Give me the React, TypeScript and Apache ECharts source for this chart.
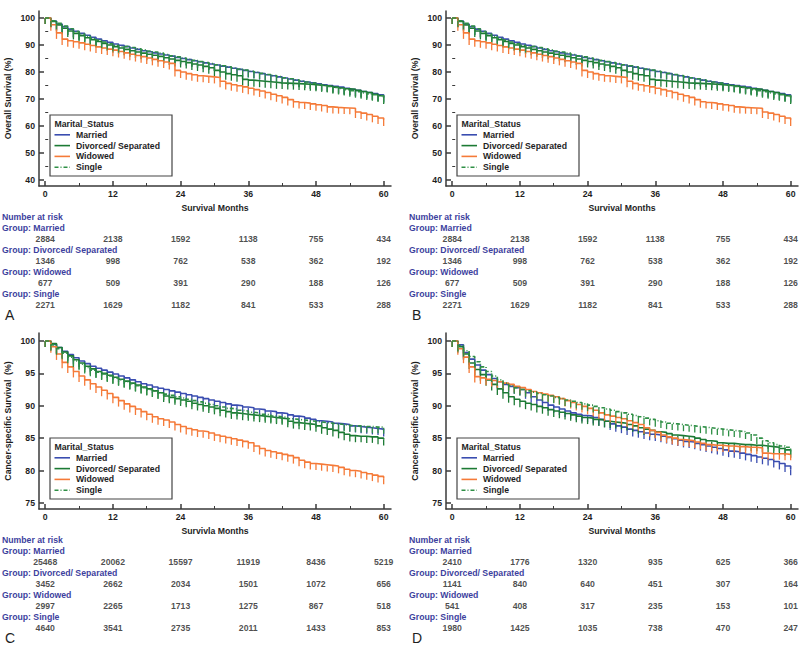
import React, { useEffect, useRef } from "react";
import * as echarts from "echarts";

// ---------------- data ----------------
const MONTHS = Array.from({ length: 61 }, (_, i) => i);
const GROUPS = ["Married", "Divorced/ Separated", "Widowed", "Single"];
const RISK_MONTHS = [0, 12, 24, 36, 48, 60];
const X_TICKS = [0, 12, 24, 36, 48, 60];
const X_MINOR = [6, 18, 30, 42, 54];
const OS_Y_TICKS = [40, 50, 60, 70, 80, 90, 100];
const OS_Y_MINOR = [45, 55, 65, 75, 85, 95];
const CSS_Y_TICKS = [75, 80, 85, 90, 95, 100];

// Overall survival (panels A and B)
const osMarried = [100, 98.9, 97.8, 96.8, 95.9, 95.1, 94.3, 93.6, 92.9, 92.2, 91.6, 91.0, 90.4, 89.9, 89.4, 88.9, 88.4, 87.9, 87.5, 87.1, 86.7, 86.3, 85.9, 85.4, 85.0, 84.6, 84.2, 83.8, 83.4, 83.0, 82.6, 82.2, 81.8, 81.4, 81.0, 80.6, 80.2, 79.8, 79.4, 79.0, 78.6, 78.2, 77.8, 77.4, 77.0, 76.6, 76.3, 76.0, 75.6, 75.3, 75.0, 74.7, 74.4, 74.0, 73.6, 73.2, 72.8, 72.4, 72.0, 71.6, 71.2];
const osDivorced = [100, 98.7, 97.4, 96.2, 95.2, 94.3, 93.5, 92.7, 92.0, 91.3, 90.6, 90.0, 89.4, 88.9, 88.4, 87.9, 87.4, 87.0, 86.6, 86.2, 85.8, 85.3, 84.8, 84.3, 83.9, 83.5, 83.0, 82.6, 82.1, 81.6, 80.6, 80.0, 79.4, 79.0, 78.6, 77.3, 77.0, 76.8, 76.6, 76.4, 76.2, 76.0, 75.9, 75.8, 75.7, 75.6, 75.5, 75.3, 75.1, 74.9, 74.7, 74.4, 74.1, 73.8, 73.6, 73.2, 72.8, 72.4, 71.8, 71.2, 70.4];
const osWidowed = [100, 97.5, 94.5, 92.2, 91.6, 91.2, 90.8, 90.3, 89.8, 89.3, 88.9, 88.5, 88.1, 87.6, 87.1, 86.6, 86.1, 85.7, 85.2, 84.7, 84.2, 83.7, 83.2, 80.6, 80.0, 79.4, 79.0, 78.6, 78.4, 78.2, 78.0, 76.6, 75.8, 75.3, 74.9, 74.5, 74.0, 73.5, 73.0, 72.4, 71.8, 71.2, 70.6, 69.8, 69.0, 68.7, 68.5, 68.2, 67.9, 67.6, 67.1, 66.9, 66.8, 66.7, 66.6, 65.2, 64.8, 64.3, 63.6, 63.0, 62.2];
const osSingle = [100, 99.0, 98.0, 97.0, 96.0, 95.0, 94.1, 93.3, 92.5, 91.8, 91.1, 90.5, 89.9, 89.4, 89.6, 89.1, 88.6, 88.2, 87.8, 87.4, 87.0, 86.5, 86.0, 85.6, 85.2, 84.7, 84.3, 83.9, 83.5, 83.1, 82.7, 82.3, 81.9, 81.5, 81.1, 80.7, 80.3, 79.9, 79.5, 79.1, 78.7, 78.3, 77.9, 77.5, 77.1, 76.7, 76.3, 75.9, 75.5, 75.1, 74.7, 74.3, 73.9, 73.5, 73.1, 72.7, 72.3, 71.9, 71.6, 71.3, 70.8];

// Cancer-specific survival, panel C
const cssMarried = [100, 99.5, 99.0, 98.4, 97.9, 97.4, 96.9, 96.5, 96.1, 95.8, 95.5, 95.2, 94.9, 94.6, 94.3, 94.0, 93.7, 93.4, 93.2, 92.9, 92.7, 92.5, 92.3, 92.1, 91.9, 91.7, 91.5, 91.3, 91.1, 90.9, 90.7, 90.5, 90.3, 90.1, 90.0, 89.8, 89.7, 89.5, 89.4, 89.2, 89.1, 88.9, 88.8, 88.6, 88.4, 88.3, 88.1, 87.9, 87.7, 87.6, 87.5, 87.3, 87.2, 87.1, 86.9, 86.8, 86.7, 86.6, 86.5, 86.4, 86.2];
const cssDivorced = [100, 99.6, 99.0, 98.3, 97.7, 97.1, 96.6, 96.1, 95.7, 95.3, 95.0, 94.7, 94.4, 94.1, 93.8, 93.5, 93.2, 92.9, 92.6, 92.3, 92.0, 91.5, 91.3, 91.1, 90.9, 90.7, 90.4, 90.2, 90.0, 89.8, 89.6, 89.3, 89.1, 88.9, 88.8, 88.7, 88.6, 88.5, 88.4, 88.3, 88.2, 88.1, 88.0, 87.6, 87.4, 87.3, 87.2, 87.1, 86.9, 86.6, 86.4, 86.2, 85.9, 85.6, 85.4, 85.3, 85.3, 85.2, 85.2, 85.0, 84.8];
const cssWidowed = [100, 99.1, 98.0, 96.7, 96.0, 95.3, 94.6, 94.0, 93.4, 92.9, 92.4, 91.9, 91.3, 90.8, 90.3, 89.9, 89.5, 89.1, 88.7, 88.3, 88.0, 87.8, 87.5, 87.1, 86.8, 86.5, 86.3, 86.1, 86.0, 85.8, 85.5, 85.3, 85.1, 84.9, 84.7, 84.5, 84.3, 83.8, 83.4, 83.1, 82.9, 82.7, 82.5, 82.3, 82.0, 81.6, 81.3, 81.1, 81.0, 80.9, 80.8, 80.7, 80.5, 80.2, 80.0, 79.9, 79.7, 79.5, 79.3, 79.1, 78.8];
const cssSingle = [100, 99.4, 98.8, 98.1, 97.5, 96.9, 96.4, 95.9, 95.5, 95.2, 94.9, 94.6, 94.3, 94.0, 93.7, 93.4, 93.1, 92.8, 92.5, 92.3, 92.0, 91.8, 91.6, 91.4, 91.2, 91.0, 90.8, 90.6, 90.4, 90.2, 90.0, 89.8, 89.6, 89.5, 89.3, 89.2, 89.0, 88.9, 88.7, 88.6, 88.4, 88.3, 88.2, 88.0, 87.9, 87.8, 87.7, 87.6, 87.5, 87.4, 87.3, 87.2, 87.1, 87.0, 86.9, 86.9, 86.8, 86.8, 86.7, 86.7, 86.6];

// Cancer-specific survival, panel D
const cssDMarried = [100, 99.4, 98.2, 97.2, 96.3, 95.5, 94.8, 94.2, 93.7, 93.3, 93.0, 92.8, 92.5, 92.0, 91.4, 90.9, 90.5, 90.1, 89.8, 89.5, 89.2, 88.9, 88.7, 88.5, 88.4, 88.2, 87.9, 87.6, 87.2, 86.9, 86.7, 86.4, 86.2, 86.0, 85.8, 85.6, 85.5, 85.3, 85.1, 84.9, 84.7, 84.5, 84.4, 84.2, 84.0, 83.8, 83.6, 83.4, 83.2, 83.0, 82.9, 82.7, 82.5, 82.3, 82.1, 81.9, 81.7, 81.4, 81.1, 80.7, 80.2];
const cssDDivorced = [100, 99.1, 98.0, 96.6, 95.6, 94.8, 94.0, 93.3, 92.6, 92.0, 91.4, 91.0, 90.7, 90.4, 90.2, 89.9, 89.7, 89.4, 89.2, 89.0, 88.8, 88.6, 88.4, 88.2, 88.1, 87.9, 87.8, 87.6, 87.5, 87.4, 87.3, 87.1, 86.9, 86.6, 86.4, 86.2, 86.0, 85.9, 85.7, 85.5, 85.4, 85.3, 85.2, 85.0, 84.8, 84.6, 84.5, 84.3, 84.2, 84.2, 84.1, 84.0, 84.0, 83.9, 83.9, 83.8, 83.7, 83.6, 83.4, 83.2, 82.9];
const cssDWidowed = [100, 98.8, 97.5, 96.0, 94.5, 94.3, 94.1, 93.9, 93.7, 93.5, 93.3, 93.0, 92.8, 92.5, 92.2, 92.0, 91.8, 91.6, 91.4, 91.1, 90.8, 90.5, 90.2, 89.9, 89.6, 89.3, 88.9, 88.6, 88.4, 88.2, 88.0, 87.7, 87.4, 87.1, 86.6, 86.2, 85.9, 85.5, 85.2, 85.0, 84.8, 84.7, 84.6, 84.4, 84.2, 84.0, 83.9, 83.9, 83.8, 83.8, 83.7, 83.7, 83.6, 83.6, 83.5, 82.7, 82.6, 82.6, 82.6, 82.5, 82.5];
const cssDSingle = [100, 99.3, 98.5, 97.6, 96.8, 96.0, 95.3, 94.6, 94.0, 93.5, 93.1, 92.8, 92.5, 92.3, 92.1, 91.9, 91.7, 91.5, 91.3, 91.1, 90.9, 90.7, 90.5, 90.3, 90.1, 89.9, 89.7, 89.5, 89.3, 89.1, 88.9, 88.7, 88.5, 88.3, 88.1, 87.9, 87.7, 87.5, 87.3, 87.2, 87.1, 87.0, 86.9, 86.8, 86.7, 86.6, 86.5, 86.4, 86.3, 86.2, 86.1, 86.0, 85.8, 85.5, 85.0, 84.6, 84.3, 84.0, 83.8, 83.6, 83.4];

// Numbers at risk
const riskOsMarried = [2884, 2138, 1592, 1138, 755, 434];
const riskOsDivorced = [1346, 998, 762, 538, 362, 192];
const riskOsWidowed = [677, 509, 391, 290, 188, 126];
const riskOsSingle = [2271, 1629, 1182, 841, 533, 288];
const riskCMarried = [25468, 20062, 15597, 11919, 8436, 5219];
const riskCDivorced = [3452, 2662, 2034, 1501, 1072, 656];
const riskCWidowed = [2997, 2265, 1713, 1275, 867, 518];
const riskCSingle = [4640, 3541, 2735, 2011, 1433, 853];
const riskDMarried = [2410, 1776, 1320, 935, 625, 366];
const riskDDivorced = [1141, 840, 640, 451, 307, 164];
const riskDWidowed = [541, 408, 317, 235, 153, 101];
const riskDSingle = [1980, 1425, 1035, 738, 470, 247];

// ---------------- styling ----------------
const FONT = '"Liberation Sans", Arial, Helvetica, sans-serif';
const FS = 8.7;
const COLORS = ["#3a4db0", "#1c7a34", "#f57a38", "#2e8f45"];
const DASH = [4, 2, 1, 2];
const AXIS_COLOR = "#3a3a3a";
const TEXT_COLOR = "#1e1e1e";
const BLUE_TEXT = "#3d3f9e";
const X_MIN = -1.1;
const X_MAX = 61.3;
const PLOT_LEFT = 39;
const PLOT_W = 352;
const TABLE_TOP = 228;
const TABLE_H = 88;

const PANELS = [
  { letter: "A", ox: 0, oy: 0, top: 11, h: 175, yMin: 37.8, yMax: 102.6, yTicks: OS_Y_TICKS, yMinor: OS_Y_MINOR, yName: "Overall Survival (%)", xName: "Survival Months", curves: [osMarried, osDivorced, osWidowed, osSingle], risk: [riskOsMarried, riskOsDivorced, riskOsWidowed, riskOsSingle] },
  { letter: "B", ox: 407, oy: 0, top: 11, h: 175, yMin: 37.8, yMax: 102.6, yTicks: OS_Y_TICKS, yMinor: OS_Y_MINOR, yName: "Overall Survival (%)", xName: "Survival Months", curves: [osMarried, osDivorced, osWidowed, osSingle], risk: [riskOsMarried, riskOsDivorced, riskOsWidowed, riskOsSingle] },
  { letter: "C", ox: 0, oy: 323, top: 333, h: 176, yMin: 74.07, yMax: 101.23, yTicks: CSS_Y_TICKS, yMinor: [] as number[], yName: "Cancer-specific Survival  (%)", xName: "Survivla Months", curves: [cssMarried, cssDivorced, cssWidowed, cssSingle], risk: [riskCMarried, riskCDivorced, riskCWidowed, riskCSingle] },
  { letter: "D", ox: 407, oy: 323, top: 333, h: 176, yMin: 74.07, yMax: 101.23, yTicks: CSS_Y_TICKS, yMinor: [] as number[], yName: "Cancer-specific Survival  (%)", xName: "Survival Months", curves: [cssDMarried, cssDDivorced, cssDWidowed, cssDSingle], risk: [riskDMarried, riskDDivorced, riskDWidowed, riskDSingle] },
];

const boldFont = `bold ${FS}px ${FONT}`;

function buildOption() {
  const grid: any[] = [];
  const xAxis: any[] = [];
  const yAxis: any[] = [];
  const series: any[] = [];
  const graphic: any[] = [];
  const axisLineStyle = { color: AXIS_COLOR, width: 1.5 };
  const labelStyle = { fontFamily: FONT, fontWeight: "bold", fontSize: FS, color: TEXT_COLOR };

  PANELS.forEach((p, pi) => {
    const gPlot = pi * 2;
    const gTab = pi * 2 + 1;
    const ab = pi * 3;
    grid.push({ left: PLOT_LEFT + p.ox, top: p.top, width: PLOT_W, height: p.h });
    grid.push({ left: PLOT_LEFT + p.ox, top: TABLE_TOP + p.oy, width: PLOT_W, height: TABLE_H });

    xAxis.push({
      type: "value", gridIndex: gPlot, position: "bottom", min: X_MIN, max: X_MAX,
      name: p.xName, nameLocation: "middle", nameGap: 17,
      nameTextStyle: { ...labelStyle },
      axisLine: { show: true, onZero: false, lineStyle: axisLineStyle },
      axisTick: { show: true, inside: true, length: 5, customValues: X_TICKS, lineStyle: axisLineStyle },
      axisLabel: { show: true, customValues: X_TICKS, margin: 3, ...labelStyle },
      splitLine: { show: false },
    });
    xAxis.push({
      type: "value", gridIndex: gPlot, position: "bottom", min: X_MIN, max: X_MAX,
      axisLine: { show: false },
      axisTick: { show: true, inside: true, length: 3, customValues: X_MINOR, lineStyle: { color: AXIS_COLOR, width: 1 } },
      axisLabel: { show: false }, splitLine: { show: false },
    });
    xAxis.push({ type: "value", gridIndex: gTab, min: X_MIN, max: X_MAX, show: false });

    yAxis.push({
      type: "value", gridIndex: gPlot, position: "left", min: p.yMin, max: p.yMax,
      name: p.yName, nameLocation: "middle", nameGap: 27, nameRotate: 90,
      nameTextStyle: { ...labelStyle },
      axisLine: { show: true, onZero: false, lineStyle: axisLineStyle },
      axisTick: { show: true, inside: true, length: 5, customValues: p.yTicks, lineStyle: axisLineStyle },
      axisLabel: { show: true, customValues: p.yTicks, margin: 4, ...labelStyle },
      splitLine: { show: false },
    });
    yAxis.push({
      type: "value", gridIndex: gPlot, position: "left", min: p.yMin, max: p.yMax,
      axisLine: { show: false },
      axisTick: p.yMinor.length
        ? { show: true, inside: true, length: 3, customValues: p.yMinor, lineStyle: { color: AXIS_COLOR, width: 1 } }
        : { show: false },
      axisLabel: { show: false }, splitLine: { show: false },
    });
    yAxis.push({ type: "value", gridIndex: gTab, min: -0.5, max: 3.5, inverse: true, show: false });

    // survival curves
    p.curves.forEach((arr, gi) => {
      const dashed = gi === 3;
      series.push({
        type: "line", name: GROUPS[gi], xAxisIndex: ab, yAxisIndex: ab, step: "end",
        data: MONTHS.map((m, i) => [m, arr[i]]),
        symbol: "rect", symbolSize: [1.3, 6], symbolOffset: [0, 3], showSymbol: true, showAllSymbol: true,
        itemStyle: { color: COLORS[gi] },
        lineStyle: { color: COLORS[gi], width: 1.6, type: dashed ? DASH : "solid" },
        silent: true, z: 2 + gi,
      });
    });

    // numbers at risk
    p.risk.forEach((arr, gi) => {
      series.push({
        type: "scatter", xAxisIndex: ab + 2, yAxisIndex: ab + 2, symbolSize: 1,
        itemStyle: { color: "rgba(0,0,0,0)" }, silent: true,
        data: RISK_MONTHS.map((m, j) => [m, gi, arr[j]]),
        label: { show: true, position: "inside", formatter: (prm: any) => String(prm.value[2]), ...labelStyle },
      });
    });

    // table row labels
    graphic.push({ type: "text", x: 2 + p.ox, y: 217 + p.oy, style: { text: "Number at risk", font: boldFont, fill: BLUE_TEXT, verticalAlign: "middle", align: "left" } });
    GROUPS.forEach((g, gi) => {
      graphic.push({ type: "text", x: 2 + p.ox, y: 228 + gi * 22 + p.oy, style: { text: "Group: " + g, font: boldFont, fill: BLUE_TEXT, verticalAlign: "middle", align: "left" } });
    });

    // panel letter
    graphic.push({ type: "text", x: 5 + p.ox, y: 315 + p.oy, style: { text: p.letter, font: `14px ${FONT}`, fill: TEXT_COLOR, verticalAlign: "middle", align: "left" } });

    // legend box
    const lx = 50 + p.ox;
    const ly = 115 + p.oy;
    graphic.push({ type: "rect", x: lx, y: ly, shape: { width: 122, height: 61 }, style: { fill: "#fff", stroke: "#444", lineWidth: 1.2 }, z: 20 });
    graphic.push({ type: "text", x: lx + 4.5, y: ly + 8.5, style: { text: "Marital_Status", font: boldFont, fill: TEXT_COLOR, verticalAlign: "middle", align: "left" }, z: 21 });
    GROUPS.forEach((g, gi) => {
      const yy = ly + 19.8 + gi * 10.8;
      graphic.push({ type: "line", shape: { x1: lx + 4.5, y1: yy, x2: lx + 20, y2: yy }, style: { stroke: COLORS[gi], lineWidth: 1.6, lineDash: gi === 3 ? DASH : null }, z: 21 });
      graphic.push({ type: "text", x: lx + 26, y: yy, style: { text: g, font: boldFont, fill: TEXT_COLOR, verticalAlign: "middle", align: "left" }, z: 21 });
    });
  });

  return { animation: false, backgroundColor: "#fff", grid, xAxis, yAxis, series, graphic };
}

export default function App() {
  const ref = useRef<HTMLDivElement>(null);
  useEffect(() => {
    if (!ref.current) return;
    const chart = echarts.init(ref.current, undefined, { renderer: "svg" });
    chart.setOption(buildOption() as any);
    return () => chart.dispose();
  }, []);
  return (
    <div
      ref={ref}
      style={{ position: "fixed", left: 0, top: 0, width: 800, height: 650, background: "#fff" }}
    />
  );
}
